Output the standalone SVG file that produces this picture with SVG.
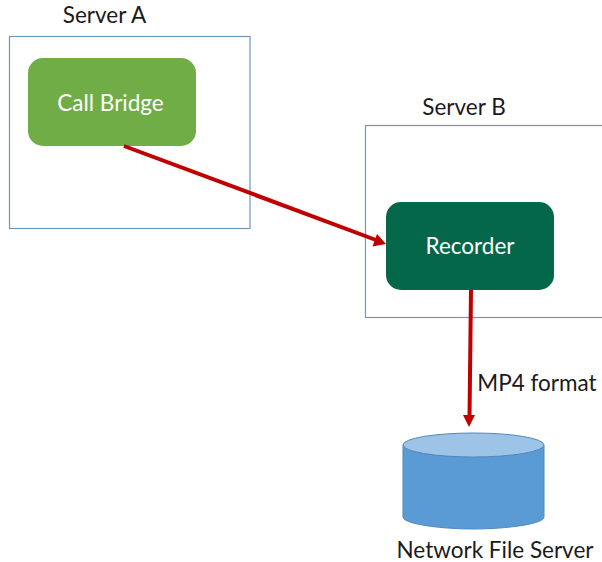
<svg xmlns="http://www.w3.org/2000/svg" width="602" height="562" viewBox="0 0 602 562">
<style>
text{font-family:Lato,"Open Sans","Liberation Sans",sans-serif;font-size:22.500px;fill:#1a1a1a;text-anchor:middle}
.w{fill:#fff}
.box{fill:#fff;stroke:#6f97bd;stroke-width:1.200}
.c{fill:none;stroke:#c00000;stroke-width:4}
.h{fill:#c00000;stroke:none}
</style>
<rect width="602" height="562" fill="#fff"/>
<g id="server-a"><rect class="box" x="9.500" y="36.500" width="240.500" height="192"/><text x="104.500" y="23">Server A</text></g>
<g id="server-b"><rect class="box" x="365.500" y="125.500" width="240" height="192"/><text x="464" y="115">Server B</text></g>
<g id="call-bridge"><rect x="28" y="58" width="168" height="88" rx="15" fill="#70ad47"/><text class="w" x="110.500" y="111">Call Bridge</text></g>
<g id="recorder"><rect x="386" y="202" width="168" height="88" rx="15" fill="#05674a"/><text class="w" x="470" y="254">Recorder</text></g>
<g id="network-file-server">
<path d="M403 445V517C403 524 441 529 473.500 529S544 524 544 517V445Z" fill="#5b9bd5" stroke="#5188bb" stroke-width="1"/>
<ellipse cx="473.500" cy="445" rx="70.500" ry="12" fill="#9dc3e6" stroke="#5188bb" stroke-width="1"/>
<text x="495" y="558">Network File Server</text>
</g>
<g id="connectors">
<path class="c" d="M124 146L376 240"/><path class="h" d="M386 244L372.500 246.500L377 234Z"/>
<path class="c" d="M471 290L469.500 417"/><path class="h" d="M469 427L463 415H475Z"/>
<text x="537" y="391">MP4 format</text>
</g>
</svg>
